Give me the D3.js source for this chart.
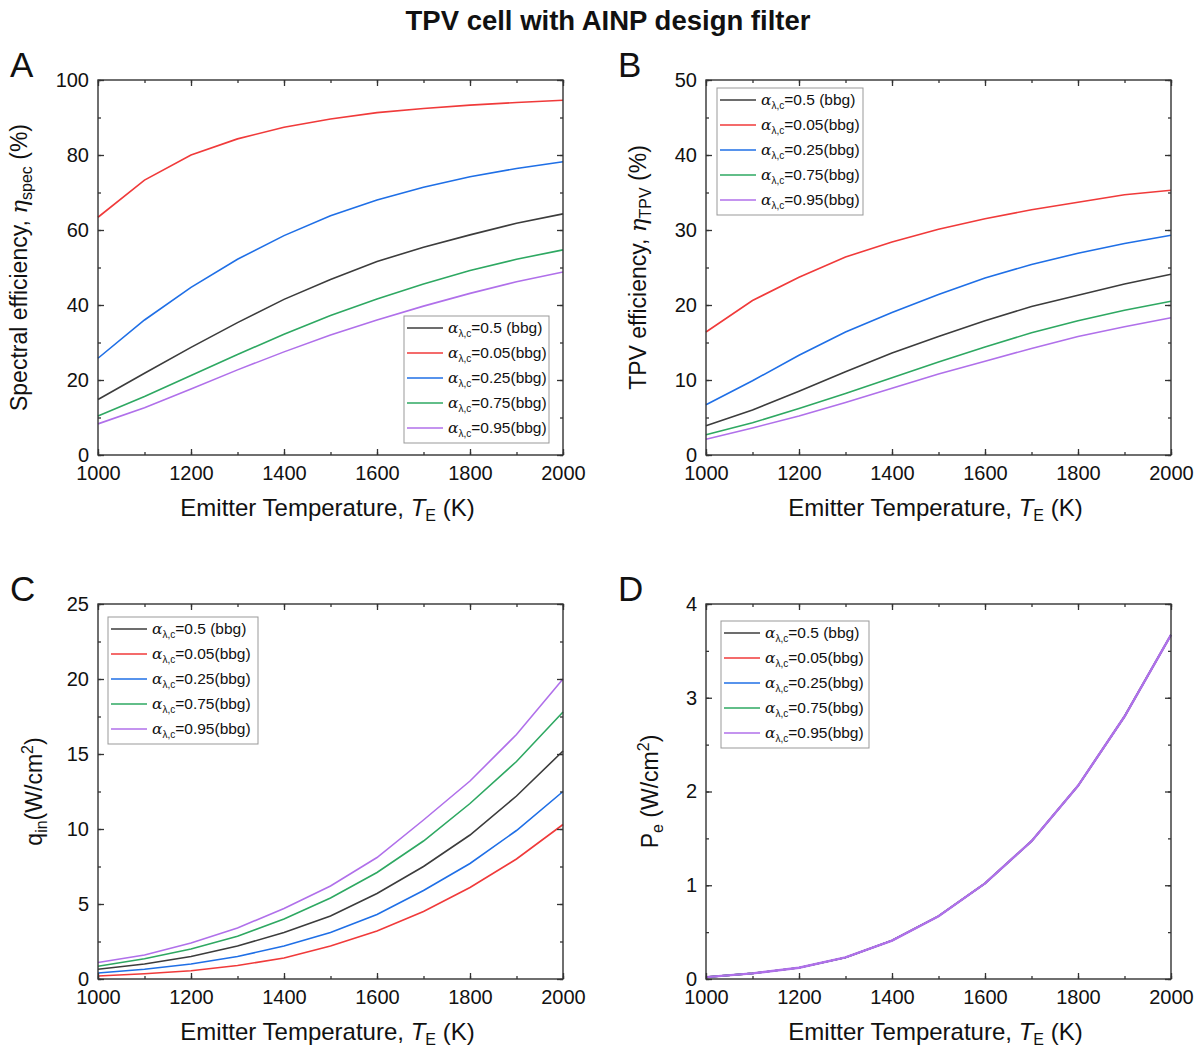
<!DOCTYPE html>
<html>
<head>
<meta charset="utf-8">
<script src="https://cdn.jsdelivr.net/npm/d3@7"></script>
<style>
  body { margin: 0; background: #fff; }
  text { font-family: Arial, "Liberation Sans", sans-serif; fill: #111; }
</style>
</head>
<body>
<div id="canvas"></div>
<script>
// emitter temperatures (K)
const temps = [1000, 1100, 1200, 1300, 1400, 1500, 1600, 1700, 1800, 1900, 2000];
const seriesNames = ["0.5 (bbg)", "0.05(bbg)", "0.25(bbg)", "0.75(bbg)", "0.95(bbg)"];
const seriesColors = ["#3c3c3c", "#f03a3a", "#1f6fe6", "#2ea862", "#b070ea"];

// A: spectral efficiency (%)
const specA05 = [14.8, 21.8, 28.7, 35.3, 41.5, 46.8, 51.6, 55.4, 58.7, 61.8, 64.3];
const specA005 = [63.4, 73.3, 80.0, 84.3, 87.4, 89.6, 91.3, 92.4, 93.3, 94.0, 94.6];
const specA025 = [25.8, 36.0, 44.7, 52.2, 58.5, 63.8, 68.0, 71.4, 74.2, 76.4, 78.2];
const specA075 = [10.4, 15.6, 21.2, 26.8, 32.2, 37.2, 41.6, 45.6, 49.2, 52.2, 54.7];
const specA095 = [8.3, 12.6, 17.6, 22.7, 27.5, 32.0, 36.0, 39.7, 43.1, 46.2, 48.8];

// B: TPV efficiency (%)
const tpv05 = [3.9, 6.0, 8.5, 11.1, 13.6, 15.8, 17.9, 19.8, 21.3, 22.8, 24.1];
const tpv005 = [16.4, 20.6, 23.7, 26.4, 28.4, 30.1, 31.5, 32.7, 33.7, 34.7, 35.3];
const tpv025 = [6.7, 9.9, 13.3, 16.4, 19.0, 21.4, 23.6, 25.4, 26.9, 28.2, 29.3];
const tpv075 = [2.7, 4.3, 6.2, 8.2, 10.3, 12.4, 14.4, 16.3, 17.9, 19.3, 20.5];
const tpv095 = [2.1, 3.6, 5.2, 7.0, 8.9, 10.8, 12.5, 14.2, 15.8, 17.1, 18.3];

// C: q_in (W/cm2)
const qin05 = [0.65, 1.0, 1.5, 2.2, 3.1, 4.2, 5.7, 7.5, 9.6, 12.2, 15.2];
const qin005 = [0.2, 0.35, 0.55, 0.9, 1.4, 2.2, 3.2, 4.5, 6.1, 8.0, 10.3];
const qin025 = [0.4, 0.65, 1.0, 1.5, 2.2, 3.1, 4.3, 5.9, 7.7, 9.9, 12.5];
const qin075 = [0.85, 1.35, 2.0, 2.85, 4.0, 5.4, 7.1, 9.2, 11.7, 14.5, 17.8];
const qin095 = [1.1, 1.6, 2.4, 3.4, 4.7, 6.2, 8.1, 10.6, 13.2, 16.3, 20.0];

// D: P_e (W/cm2) - all five curves coincide
const pe = [0.02, 0.06, 0.12, 0.23, 0.41, 0.67, 1.02, 1.47, 2.06, 2.8, 3.67];

const xTicks = [1000, 1200, 1400, 1600, 1800, 2000];

const svg = d3.select("#canvas").append("svg")
  .attr("width", 1199).attr("height", 1048);

svg.append("text")
  .attr("x", 608).attr("y", 30)
  .attr("text-anchor", "middle")
  .style("font-size", "27.5px").style("font-weight", "bold")
  .text("TPV cell with AINP design filter");

const drawPanel = (p) => {
  const w = 465, h = 375;
  const g = svg.append("g").attr("transform", `translate(${p.left},${p.top})`);

  const x = d3.scaleLinear().domain([1000, 2000]).range([0, w]);
  const y = d3.scaleLinear().domain([0, p.yMax]).range([h, 0]);
  const yMinor = d3.range(0, p.yMax + 1e-9, p.yStep / 2);
  const xMinor = d3.range(1000, 2001, 100);

  // curves
  const line = d3.line().x((d, i) => x(temps[i])).y((d) => y(d));
  p.series.forEach((s, k) => {
    g.append("path")
      .attr("d", line(s))
      .attr("fill", "none")
      .attr("stroke", seriesColors[k])
      .attr("stroke-width", p.topWide && k === 4 ? 2.4 : 1.6);
  });

  // frame
  g.append("rect").attr("width", w).attr("height", h)
    .attr("fill", "none").attr("stroke", "#333").attr("stroke-width", 1.4);

  const tickStyle = (sel) => {
    sel.select(".domain").remove();
    sel.selectAll("line").attr("stroke", "#333").attr("stroke-width", 1.3);
    sel.selectAll("text").style("font-size", "20px").attr("fill", "#111");
  };

  // minor ticks
  g.append("g").attr("transform", `translate(0,${h})`)
    .call(d3.axisBottom(x).tickValues(xMinor).tickSize(-3).tickFormat("")).call(tickStyle);
  g.append("g")
    .call(d3.axisTop(x).tickValues(xMinor).tickSize(-3).tickFormat("")).call(tickStyle);
  g.append("g")
    .call(d3.axisLeft(y).tickValues(yMinor).tickSize(-3).tickFormat("")).call(tickStyle);
  g.append("g").attr("transform", `translate(${w},0)`)
    .call(d3.axisRight(y).tickValues(yMinor).tickSize(-3).tickFormat("")).call(tickStyle);

  // major ticks
  g.append("g").attr("transform", `translate(0,${h})`)
    .call(d3.axisBottom(x).tickValues(xTicks).tickSize(-6).tickPadding(11).tickFormat(d3.format("d")))
    .call(tickStyle);
  g.append("g")
    .call(d3.axisTop(x).tickValues(xTicks).tickSize(-6).tickFormat("")).call(tickStyle);
  g.append("g")
    .call(d3.axisLeft(y).tickValues(d3.range(0, p.yMax + 1e-9, p.yStep)).tickSize(-6).tickPadding(9)
      .tickFormat(d3.format("d")))
    .call(tickStyle);
  g.append("g").attr("transform", `translate(${w},0)`)
    .call(d3.axisRight(y).tickValues(d3.range(0, p.yMax + 1e-9, p.yStep)).tickSize(-6).tickFormat(""))
    .call(tickStyle);

  // x axis title
  const xt = g.append("text")
    .attr("x", w / 2 - 3).attr("y", h + 61)
    .attr("text-anchor", "middle").style("font-size", "24px");
  xt.append("tspan").text("Emitter Temperature, ");
  xt.append("tspan").style("font-style", "italic").text("T");
  xt.append("tspan").attr("dy", 5).style("font-size", "16px").text("E");
  xt.append("tspan").attr("dy", -5).text(" (K)");

  // y axis title
  const yt = g.append("text")
    .attr("transform", `translate(${p.yLabelX},${h / 2}) rotate(-90)`)
    .attr("text-anchor", "middle").style("font-size", "23px");
  p.yLabel(yt);

  // panel letter
  svg.append("text")
    .attr("x", p.left - 88).attr("y", p.top - 3)
    .style("font-size", "35px").text(p.letter);

  // legend
  const lg = g.append("g").attr("transform", `translate(${p.legend[0]},${p.legend[1]})`);
  lg.append("rect").attr("width", p.legend[2]).attr("height", 127)
    .attr("fill", "#fff").attr("stroke", "#999").attr("stroke-width", 1);
  seriesNames.forEach((name, k) => {
    const ry = 12 + k * 25;
    lg.append("line").attr("x1", 3).attr("x2", 39).attr("y1", ry).attr("y2", ry)
      .attr("stroke", seriesColors[k]).attr("stroke-width", 1.6);
    const t = lg.append("text").attr("x", 44).attr("y", ry + 5).style("font-size", "15.5px");
    t.append("tspan").style("font-family", "'DejaVu Serif', serif").style("font-style", "italic").text("α");
    t.append("tspan").attr("dy", 4).style("font-size", "10px").text("λ,c");
    t.append("tspan").attr("dy", -4).text("=" + name);
  });
};

drawPanel({
  letter: "A", left: 98, top: 80, yMax: 100, yStep: 20,
  series: [specA05, specA005, specA025, specA075, specA095],
  legend: [306, 236, 145], yLabelX: -71,
  yLabel: (t) => {
    t.append("tspan").text("Spectral efficiency, ");
    t.append("tspan").style("font-family", "'DejaVu Serif', serif").style("font-style", "italic").text("η");
    t.append("tspan").attr("dy", 5).style("font-size", "16px").text("spec");
    t.append("tspan").attr("dy", -5).text(" (%)");
  }
});

drawPanel({
  letter: "B", left: 706, top: 80, yMax: 50, yStep: 10,
  series: [tpv05, tpv005, tpv025, tpv075, tpv095],
  legend: [11, 8, 146], yLabelX: -60,
  yLabel: (t) => {
    t.append("tspan").text("TPV efficiency, ");
    t.append("tspan").style("font-family", "'DejaVu Serif', serif").style("font-style", "italic").text("η");
    t.append("tspan").attr("dy", 5).style("font-size", "16px").text("TPV");
    t.append("tspan").attr("dy", -5).text(" (%)");
  }
});

drawPanel({
  letter: "C", left: 98, top: 604, yMax: 25, yStep: 5,
  series: [qin05, qin005, qin025, qin075, qin095],
  legend: [10, 13, 150], yLabelX: -56,
  yLabel: (t) => {
    t.append("tspan").text("q");
    t.append("tspan").attr("dy", 5).style("font-size", "16px").text("in");
    t.append("tspan").attr("dy", -5).text("(W/cm");
    t.append("tspan").attr("dy", -9).style("font-size", "16px").text("2");
    t.append("tspan").attr("dy", 9).text(")");
  }
});

drawPanel({
  letter: "D", left: 706, top: 604, yMax: 4, yStep: 1, topWide: true,
  series: [pe, pe, pe, pe, pe],
  legend: [15, 17, 148], yLabelX: -48,
  yLabel: (t) => {
    t.append("tspan").text("P");
    t.append("tspan").attr("dy", 5).style("font-size", "16px").text("e");
    t.append("tspan").attr("dy", -5).text(" (W/cm");
    t.append("tspan").attr("dy", -9).style("font-size", "16px").text("2");
    t.append("tspan").attr("dy", 9).text(")");
  }
});
</script>
</body>
</html>
